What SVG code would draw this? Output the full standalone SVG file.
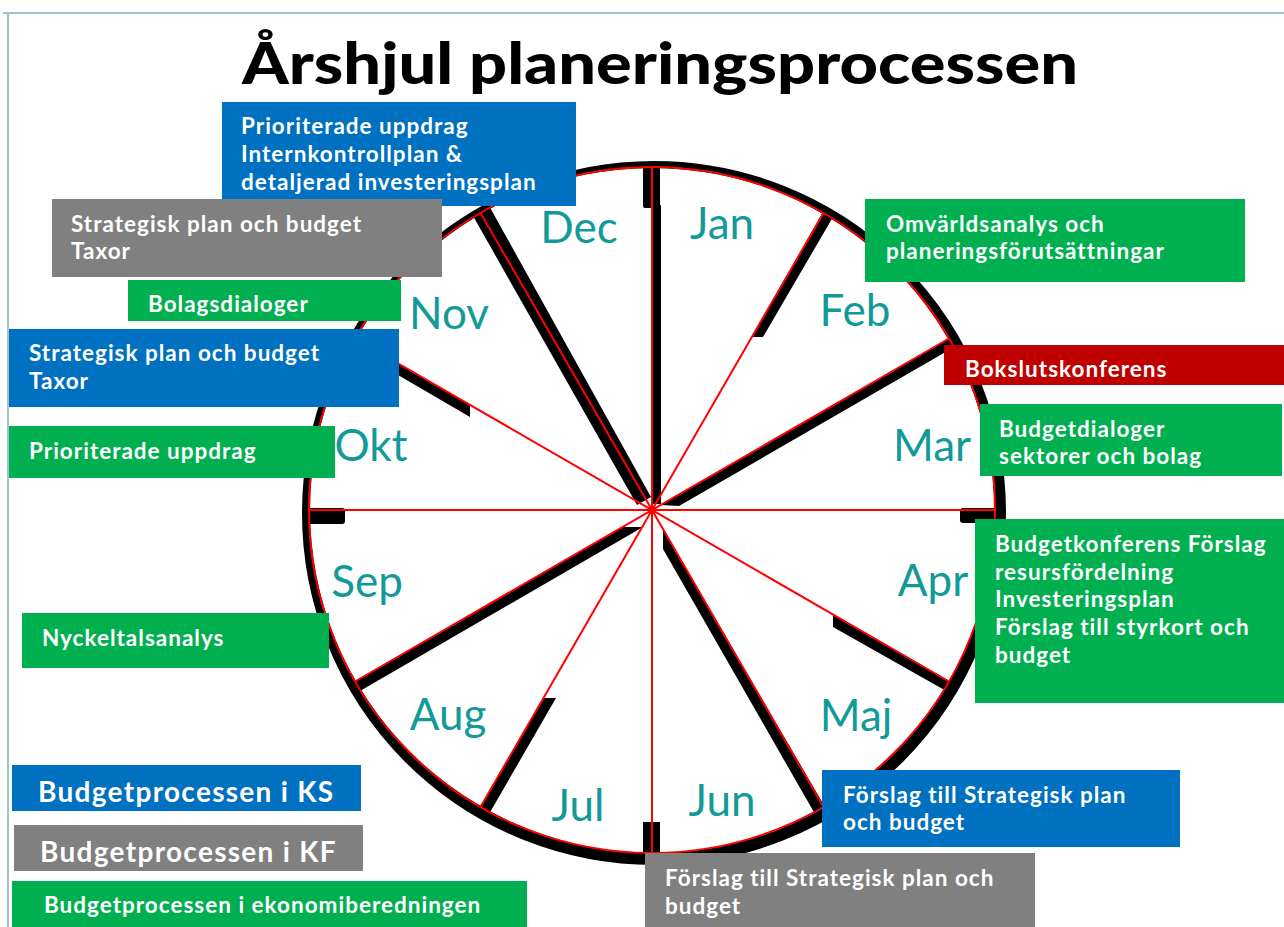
<svg xmlns="http://www.w3.org/2000/svg" width="1284" height="927" viewBox="0 0 1284 927">
<style>
.box text{font-family:Lato,"Open Sans","Liberation Sans",sans-serif;font-weight:700;fill:#fff;font-size:22.5px;letter-spacing:1px}
.box text.lg{font-size:28px;letter-spacing:1.3px}
.mon{font-family:Lato,"Open Sans","Liberation Sans",sans-serif;font-size:44px;fill:#129a98;text-anchor:middle}
.red{stroke:#ff0000;stroke-width:2;fill:none}
.blk{fill:#000}
.blue{fill:#0070C0}.green{fill:#00B050}.gray{fill:#808080}.dred{fill:#C00000}
</style>
<rect width="1284" height="927" fill="#fff"/>
<g id="frame" stroke="#9cc5c5" stroke-width="2" fill="none">
<line x1="3" y1="13" x2="1284" y2="13"/>
<line x1="8" y1="13" x2="8" y2="927"/>
</g>
<text id="title" x="242" y="84" font-family="Lato,'Open Sans','Liberation Sans',sans-serif" font-weight="900" font-size="58" fill="#000" textLength="836" lengthAdjust="spacingAndGlyphs">Årshjul planeringsprocessen</text>
<g id="wheel">
<circle cx="654" cy="513" r="346" fill="none" stroke="#000" stroke-width="12"/>
<circle cx="652" cy="510" r="342" fill="#fff"/>
<g id="connectors">
<g class="blk">
<rect x="643" y="166" width="17" height="42" rx="2"/>
<rect x="652" y="205" width="9" height="299"/>
<polygon points="823,212 833,217 763,337 752,337"/>
<polygon points="661,505 951,337 956,346 679,506"/>
<rect x="960" y="508" width="38" height="15" rx="3"/>
<rect x="303" y="508" width="42" height="16" rx="3"/>
<polygon points="833,614 951,682 948,692 833,627"/>
<polygon points="663,529 825,807 815,814 663,549"/>
<rect x="643" y="822" width="17" height="32"/>
<polygon points="543.5,698 556,698 489,814 480,808"/>
<polygon points="622.5,527 643,527 360,691 355,681.5"/>
<polygon points="470,405 355,338.5 350,347 470,417"/>
<polygon points="473.6,217 490,207.5 651,497 637,505"/>
</g>
<circle class="red" cx="652" cy="510" r="343"/>
<g class="red">
<line x1="652" y1="167" x2="652" y2="853"/>
<line x1="823.5" y1="213" x2="480.5" y2="807"/>
<line x1="949" y1="338.5" x2="355" y2="681.5"/>
<line x1="995" y1="510" x2="309" y2="510"/>
<line x1="949" y1="681.5" x2="355" y2="338.5"/>
<line x1="823.5" y1="807" x2="480.5" y2="213"/>
</g>
<circle cx="652" cy="510" r="4" fill="#ff0000"/>
</g>
<g id="months">
<text class="mon" x="722" y="239">Jan</text>
<text class="mon" x="579" y="243">Dec</text>
<text class="mon" x="855" y="326">Feb</text>
<text class="mon" x="449" y="329">Nov</text>
<text class="mon" x="932" y="461">Mar</text>
<text class="mon" x="371" y="461">Okt</text>
<text class="mon" x="933" y="596">Apr</text>
<text class="mon" x="367" y="597">Sep</text>
<text class="mon" x="856" y="731">Maj</text>
<text class="mon" x="448" y="730">Aug</text>
<text class="mon" x="722" y="816">Jun</text>
<text class="mon" x="578" y="821">Jul</text>
</g>
</g>
<g id="box-prio-intern" class="box"><rect class="blue" x="222" y="102" width="354" height="104"/>
<text x="241" y="134">Prioriterade uppdrag</text><text x="241" y="162">Internkontrollplan &amp;</text><text x="241" y="190">detaljerad investeringsplan</text></g>
<g id="box-strat-kf" class="box"><rect class="gray" x="52" y="199" width="390" height="78"/>
<text x="71" y="232">Strategisk plan och budget</text><text x="71" y="259">Taxor</text></g>
<g id="box-bolag" class="box"><rect class="green" x="128" y="280" width="273" height="41"/>
<text x="148" y="312">Bolagsdialoger</text></g>
<g id="box-strat-ks" class="box"><rect class="blue" x="9" y="329" width="390" height="78"/>
<text x="29" y="361">Strategisk plan och budget</text><text x="29" y="389">Taxor</text></g>
<g id="box-prio" class="box"><rect class="green" x="9" y="426" width="326" height="52"/>
<text x="29" y="459">Prioriterade uppdrag</text></g>
<g id="box-omvarld" class="box"><rect class="green" x="865" y="199" width="380" height="83"/>
<text x="886" y="232">Omvärldsanalys och</text><text x="886" y="259">planeringsförutsättningar</text></g>
<g id="box-bokslut" class="box"><rect class="dred" x="944" y="345" width="340" height="40"/>
<text x="965" y="377">Bokslutskonferens</text></g>
<g id="box-budgetdialog" class="box"><rect class="green" x="980" y="404" width="302" height="72"/>
<text x="999" y="437">Budgetdialoger</text><text x="999" y="464">sektorer och bolag</text></g>
<g id="box-budgetkonf" class="box"><rect class="green" x="975" y="519" width="309" height="184"/>
<text x="995" y="552">Budgetkonferens Förslag</text><text x="995" y="580">resursfördelning</text><text x="995" y="607">Investeringsplan</text><text x="995" y="635">Förslag till styrkort och</text><text x="995" y="663">budget</text></g>
<g id="box-nyckel" class="box"><rect class="green" x="22" y="613" width="307" height="55"/>
<text x="42" y="646">Nyckeltalsanalys</text></g>
<g id="box-forslag-ks" class="box"><rect class="blue" x="822" y="770" width="358" height="77"/>
<text x="843" y="803">Förslag till Strategisk plan</text><text x="843" y="830">och budget</text></g>
<g id="box-forslag-kf" class="box"><rect class="gray" x="645" y="853" width="390" height="74"/>
<text x="665" y="886">Förslag till Strategisk plan och</text><text x="665" y="914">budget</text></g>
<g id="legend-ks" class="box"><rect class="blue" x="12" y="765" width="349" height="46"/>
<text class="lg" x="38" y="802">Budgetprocessen i KS</text></g>
<g id="legend-kf" class="box"><rect class="gray" x="14" y="825" width="349" height="46"/>
<text class="lg" x="40" y="862">Budgetprocessen i KF</text></g>
<g id="legend-eko" class="box"><rect class="green" x="12" y="881" width="515" height="46"/>
<text x="44" y="913">Budgetprocessen i ekonomiberedningen</text></g>
</svg>
